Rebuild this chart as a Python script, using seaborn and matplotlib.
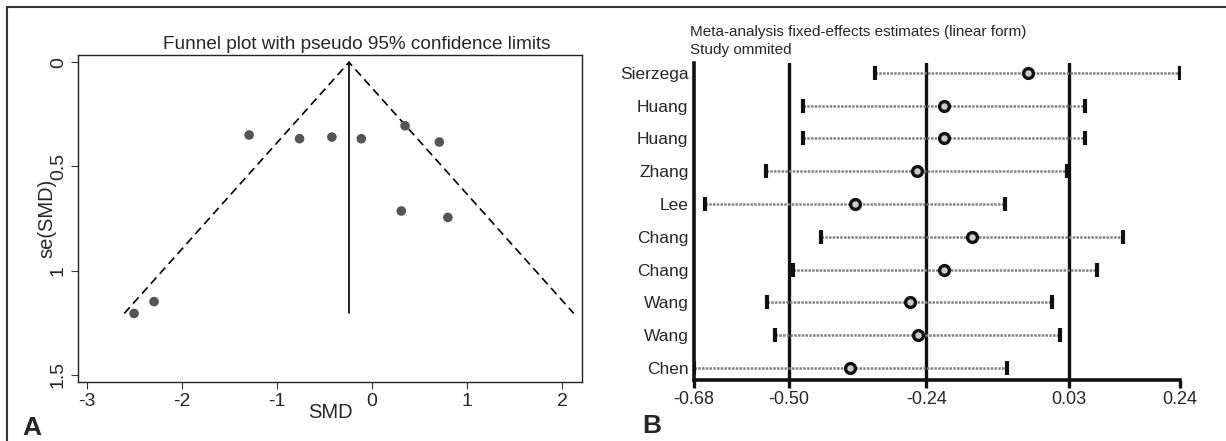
import numpy as np
import matplotlib
matplotlib.use('Agg')
import matplotlib.pyplot as plt
import pandas as pd
import seaborn as sns

# Panel A: funnel plot data
smd = [-2.50, -2.29, -1.29, -0.76, -0.42, -0.11, 0.35, 0.71, 0.31, 0.80]
se_smd = [1.206, 1.149, 0.349, 0.367, 0.359, 0.367, 0.305, 0.383, 0.714, 0.745]
pooled_smd = -0.24
a_xticks = [-3, -2, -1, 0, 1, 2]
a_yticks = [0, 0.5, 1, 1.5]

# Panel B: influence analysis (study omitted)
studies = ["Sierzega", "Huang", "Huang", "Zhang", "Lee", "Chang", "Chang", "Wang", "Wang", "Chen"]
est = [-0.048, -0.206, -0.206, -0.258, -0.375, -0.154, -0.206, -0.272, -0.256, -0.384]
ci_low = [-0.337, -0.474, -0.474, -0.544, -0.659, -0.439, -0.492, -0.542, -0.527, -0.680]
ci_high = [0.240, 0.061, 0.061, 0.026, -0.091, 0.132, 0.082, -0.002, 0.013, -0.088]
overall = [-0.50, -0.24, 0.03]
b_xticks = [-0.68, -0.50, -0.24, 0.03, 0.24]

sns.set_style('ticks')
plt.rcParams['font.family'] = ['Liberation Sans', 'DejaVu Sans']

fig = plt.figure(figsize=(12.26, 4.41), dpi=100)

# ---- A ----
ax1 = fig.add_axes([0.0636, 0.1338, 0.4111, 0.7415])
funnel = pd.DataFrame({'smd': smd, 'se': se_smd})
se_max = max(se_smd)
ax1.plot([pooled_smd - 1.96 * se_max, pooled_smd, pooled_smd + 1.96 * se_max],
         [se_max, 0, se_max], color='black', lw=1.2, ls=(0, (5, 3)))
ax1.plot([pooled_smd, pooled_smd], [0, se_max], color='black', lw=1.2)
sns.scatterplot(data=funnel, x='smd', y='se', ax=ax1, color='#555555',
                s=48, edgecolor='none', zorder=3)
ax1.set_xlim(-3.09, 2.21)
ax1.set_ylim(1.535, -0.035)
ax1.set_xticks(a_xticks)
ax1.set_yticks(a_yticks)
ax1.set_xticklabels([str(t) for t in a_xticks])
ax1.set_yticklabels(['0', '0.5', '1', '1.5'], rotation=90, va='center')
ax1.tick_params(labelsize=14, length=5, width=0.8, color='#333333', pad=3)
for s in ax1.spines.values():
    s.set_linewidth(1.0)
    s.set_color('#222222')
ax1.set_xlabel('SMD', fontsize=14.5, labelpad=-5)
ax1.set_ylabel('se(SMD)', fontsize=14.5, labelpad=-5)
ax1.text(0.554, 1.033, 'Funnel plot with pseudo 95% confidence limits',
         transform=ax1.transAxes, ha='center', va='center', fontsize=13.7)

# ---- B ----
ax2 = fig.add_axes([0.5661, 0.1383, 0.3964, 0.7188])
infl = pd.DataFrame({'study': range(len(studies)), 'est': est,
                     'lo': ci_low, 'hi': ci_high})
for v in overall:
    ax2.axvline(v, color='#111111', lw=2.4, zorder=1)
ax2.hlines(infl['study'], infl['lo'], infl['hi'], color='#808080', lw=1.8,
           linestyles=[(0, (1, 0.5))], zorder=2)
caps = pd.DataFrame({'x': ci_low + ci_high, 'y': list(infl['study']) * 2})
sns.scatterplot(data=caps, x='x', y='y', ax=ax2, marker='|', s=110,
                linewidth=3, color='#111111', zorder=3)
sns.scatterplot(data=infl, x='est', y='study', ax=ax2, s=50,
                facecolor='#cccccc', edgecolor='#111111', linewidth=2.4, zorder=4)
ax2.set_xlim(-0.68, 0.24)
ax2.set_ylim(9.37, -0.30)
ax2.set_yticks(range(len(studies)))
ax2.set_yticklabels(studies, fontsize=12.5)
ax2.set_xticks(b_xticks)
ax2.set_xticklabels(['%.2f' % t for t in b_xticks])
ax2.tick_params(axis='y', length=0, pad=4)
ax2.tick_params(axis='x', length=6, width=2.4, labelsize=13, pad=2, color='#111111')
ax2.spines['top'].set_visible(False)
ax2.spines['right'].set_visible(False)
for s in ['left', 'bottom']:
    ax2.spines[s].set_linewidth(2.6)
    ax2.spines[s].set_color('#111111')
ax2.set_xlabel('')
ax2.set_ylabel('')
fig.text(0.5625, 0.927, 'Meta-analysis fixed-effects estimates (linear form)',
         ha='left', va='center', fontsize=11)
fig.text(0.5625, 0.8866, 'Study ommited', ha='left', va='center', fontsize=11)

# panel letters
fig.text(0.018, 0.03, 'A', fontsize=19, fontweight='bold', ha='left', va='center')
fig.text(0.524, 0.035, 'B', fontsize=19, fontweight='bold', ha='left', va='center')

# outer frame (top and left edges)
fig.add_artist(plt.Line2D([7 / 1226, 1], [1 - 7 / 441, 1 - 7 / 441],
                          transform=fig.transFigure, color='#333333', lw=1.5))
fig.add_artist(plt.Line2D([7 / 1226, 7 / 1226], [0, 1 - 7 / 441],
                          transform=fig.transFigure, color='#333333', lw=1.5))

plt.savefig('out.png', dpi=100)
